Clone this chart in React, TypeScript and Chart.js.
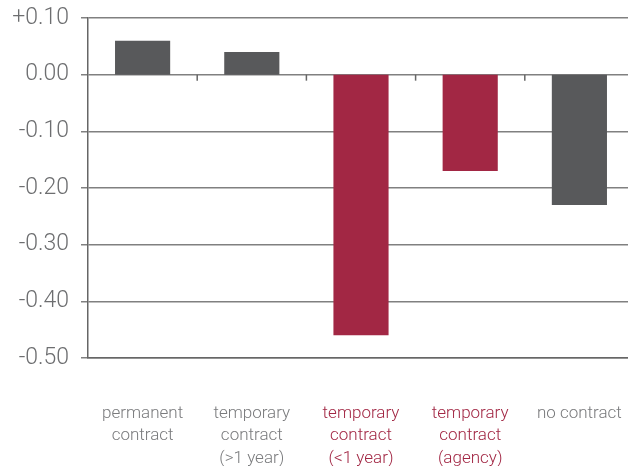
import React, { useEffect, useRef } from "react";
import { Chart, registerables } from "chart.js";

Chart.register(...registerables);

const categories: string[][] = [
  ["permanent", "contract"],
  ["temporary", "contract", "(>1 year)"],
  ["temporary", "contract", "(<1 year)"],
  ["temporary", "contract", "(agency)"],
  ["no contract"],
];
const values: number[] = [0.06, 0.04, -0.46, -0.17, -0.23];
const GRAY = "#58595b";
const RED = "#a22744";
const barColors: string[] = [GRAY, GRAY, RED, RED, GRAY];
const labelColors: string[] = ["#7a7b7d", "#7a7b7d", RED, RED, "#7a7b7d"];
const yMin = -0.5;
const yMax = 0.1;

const boundaryTicks = {
  id: "boundaryTicks",
  afterDatasetsDraw(chart: any) {
    const x = chart.scales.x;
    const y = chart.scales.y;
    const ctx = chart.ctx;
    const y0 = y.getPixelForValue(0);
    ctx.save();
    ctx.strokeStyle = "#666";
    ctx.lineWidth = 1.5;
    for (let i = 1; i < values.length; i++) {
      const px = (x.getPixelForValue(i - 1) + x.getPixelForValue(i)) / 2;
      ctx.beginPath();
      ctx.moveTo(px, y0);
      ctx.lineTo(px, y0 + 6);
      ctx.stroke();
    }
    ctx.restore();
  },
};

export default function App() {
  const ref = useRef<HTMLCanvasElement>(null);
  useEffect(() => {
    document.body.style.margin = "0";
    const chart = new Chart(ref.current!, {
      type: "bar",
      data: {
        labels: categories,
        datasets: [
          {
            data: values,
            backgroundColor: barColors,
            barPercentage: 0.505,
            categoryPercentage: 1,
          },
        ],
      },
      plugins: [boundaryTicks],
      options: {
        animation: false,
        responsive: false,
        devicePixelRatio: 1,
        layout: { padding: { top: 18, right: 0, left: 0, bottom: 0 } },
        plugins: { legend: { display: false }, tooltip: { enabled: false } },
        scales: {
          x: {
            grid: { display: false, drawTicks: false },
            border: { display: true, color: "#666", width: 1.5 },
            ticks: {
              padding: 45,
              color: (c: any) => labelColors[c.index] || "#777",
              font: { family: "Roboto", size: 17, weight: 300, lineHeight: 1.3 },
              maxRotation: 0,
              autoSkip: false,
            },
            afterFit: (s: any) => {
              s.height = 108;
              s.paddingLeft = 0;
              s.paddingRight = 0;
            },
          },
          y: {
            min: yMin,
            max: yMax,
            ticks: {
              stepSize: 0.1,
              padding: 12,
              color: "#6d6e70",
              font: { family: "Roboto", size: 23, weight: 300 },
              callback: (v: any) => {
                const n = Math.round(Number(v) * 100) / 100;
                if (n > 0) return "+" + n.toFixed(2);
                if (n === 0) return "0.00";
                return n.toFixed(2);
              },
            },
            grid: { color: "#808080", lineWidth: 1.5, tickLength: 7 },
            border: { display: true, color: "#666", width: 1.5 },
            afterFit: (s: any) => {
              s.width = 88;
              s.paddingTop = 0;
              s.paddingBottom = 0;
            },
          },
        },
      },
    });
    return () => chart.destroy();
  }, []);
  return (
    <div style={{ width: 628, height: 466, overflow: "hidden", background: "#fff" }}>
      <canvas ref={ref} width={634} height={466} style={{ display: "block" }} />
    </div>
  );
}
